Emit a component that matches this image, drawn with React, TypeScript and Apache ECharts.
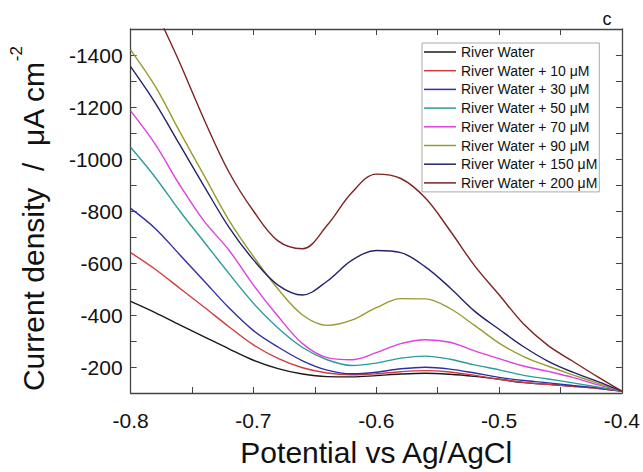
import React, { useEffect, useRef } from "react";
import * as echarts from "echarts";

const potential = [-0.8, -0.78, -0.76, -0.74, -0.72, -0.7, -0.68, -0.66, -0.64, -0.62, -0.6, -0.58, -0.56, -0.54, -0.52, -0.5, -0.48, -0.46, -0.44, -0.42, -0.4];

const rw0 = [-452, -409, -362, -316, -270, -226, -194, -173, -163, -162, -167, -173, -176, -172, -164, -153, -140, -133, -126, -118, -107];
const rw10 = [-640, -576, -503, -430, -355, -285, -233, -197, -177, -170, -174, -182, -186, -181, -168, -153, -141, -133, -126, -118, -107];
const rw30 = [-810, -733, -632, -530, -428, -340, -277, -224, -188, -174, -180, -193, -199, -192, -177, -160, -148, -139, -129, -120, -107];
const rw50 = [-1045, -930, -800, -680, -560, -445, -350, -275, -228, -206, -215, -234, -242, -230, -208, -189, -168, -154, -139, -123, -107];
const rw70 = [-1185, -1057, -900, -760, -650, -515, -395, -290, -236, -228, -255, -290, -305, -295, -262, -232, -204, -183, -160, -132, -107];
const rw90 = [-1420, -1280, -1105, -935, -765, -625, -500, -400, -360, -380, -428, -463, -462, -425, -360, -292, -240, -203, -170, -138, -107];
const rw150 = [-1355, -1216, -1055, -894, -738, -612, -515, -477, -530, -610, -648, -640, -585, -505, -415, -345, -278, -222, -180, -145, -107];
const rw200 = [-1830, -1580, -1370, -1150, -950, -800, -685, -655, -745, -870, -942, -925, -850, -725, -590, -478, -365, -282, -222, -163, -107];

const seriesNames = [
  "River Water",
  "River Water + 10 μM",
  "River Water + 30 μM",
  "River Water + 50 μM",
  "River Water + 70 μM",
  "River Water + 90 μM",
  "River Water + 150 μM",
  "River Water + 200 μM",
];
const seriesValues = [rw0, rw10, rw30, rw50, rw70, rw90, rw150, rw200];
const seriesColors = ["#1a1a1a", "#d03c3c", "#2f2fa8", "#2b9b9b", "#e03fe0", "#9a9a2e", "#23236b", "#7d2323"];

const FONT = "'Liberation Sans', Arial, sans-serif";
const AXIS_COLOR = "#444";

export default function App() {
  const ref = useRef<HTMLDivElement>(null);
  useEffect(() => {
    const chart = echarts.init(ref.current!, null, { renderer: "svg" });
    const tickCommon = {
      axisLine: { show: true, onZero: false, lineStyle: { color: AXIS_COLOR, width: 1.3 } },
      axisTick: { show: true, inside: true, length: 6, lineStyle: { color: AXIS_COLOR, width: 1 } },
      splitLine: { show: false },
    };
    chart.setOption({
      animation: false,
      backgroundColor: "#fff",
      textStyle: { fontFamily: FONT },
      grid: { left: 123, right: 20, top: 29, bottom: 74 },
      xAxis: [
        {
          type: "value",
          position: "bottom",
          min: -0.8,
          max: -0.4,
          interval: 0.1,
          ...tickCommon,
          minorTick: { show: true, splitNumber: 2, length: 6, lineStyle: { color: AXIS_COLOR, width: 1 } },
          axisLabel: {
            fontSize: 21,
            color: "#111",
            fontFamily: FONT,
            margin: 17,
            showMinLabel: true,
            showMaxLabel: true,
            formatter: (v: number) => v.toFixed(1),
          },
          name: "Potential vs Ag/AgCl",
          nameLocation: "middle",
          nameGap: 44,
          nameTextStyle: { fontSize: 30, color: "#111", fontFamily: FONT },
        },
        {
          type: "value",
          position: "top",
          min: -0.8,
          max: -0.4,
          interval: 0.1,
          ...tickCommon,
          minorTick: { show: true, splitNumber: 2, length: 6, lineStyle: { color: AXIS_COLOR, width: 1 } },
          axisLabel: { show: false },
        },
      ],
      yAxis: [
        {
          type: "value",
          position: "left",
          inverse: true,
          min: -1500,
          max: -100,
          interval: 100,
          ...tickCommon,
          axisLabel: {
            fontSize: 21,
            color: "#111",
            fontFamily: FONT,
            margin: 8,
            formatter: (v: number) => (Math.round(v) % 200 === 0 ? String(v) : ""),
          },
          name: "Current density  /  μA cm{sup|-2}",
          nameLocation: "middle",
          nameRotate: 90,
          nameGap: 68,
          nameTextStyle: {
            fontSize: 30,
            color: "#111",
            fontFamily: FONT,
            lineHeight: 50,
            padding: [0, 16, 0, 0],
            rich: {
              sup: { fontSize: 17, lineHeight: 17, verticalAlign: "top", color: "#111", fontFamily: FONT },
            },
          },
        },
        {
          type: "value",
          position: "right",
          inverse: true,
          min: -1500,
          max: -100,
          interval: 100,
          ...tickCommon,
          axisLabel: { show: false },
        },
      ],
      legend: {
        orient: "vertical",
        left: 422,
        top: 43,
        icon: "rect",
        itemWidth: 32,
        itemHeight: 1.5,
        itemGap: 4.7,
        padding: [2, 2, 2, 2],
        borderColor: "#aaa",
        borderWidth: 1,
        backgroundColor: "#fff",
        textStyle: { fontSize: 14, color: "#111", fontFamily: FONT, lineHeight: 14 },
        data: seriesNames,
      },
      graphic: [
        {
          type: "text",
          x: 607,
          y: 19,
          style: { text: "c", fontSize: 18, fontFamily: FONT, fill: "#111", align: "center", verticalAlign: "middle" },
        },
      ],
      series: seriesNames.map((name, i) => ({
        type: "line",
        name,
        xAxisIndex: 0,
        yAxisIndex: 0,
        data: potential.map((x, j) => [x, seriesValues[i][j]]),
        symbol: "none",
        smooth: 0.35,
        clip: true,
        lineStyle: { width: 1.4, color: seriesColors[i] },
        itemStyle: { color: seriesColors[i] },
      })),
    });
    return () => chart.dispose();
  }, []);
  return (
    <div
      ref={ref}
      style={{ position: "fixed", left: 0, top: 0, width: 643, height: 472, background: "#fff" }}
    />
  );
}
